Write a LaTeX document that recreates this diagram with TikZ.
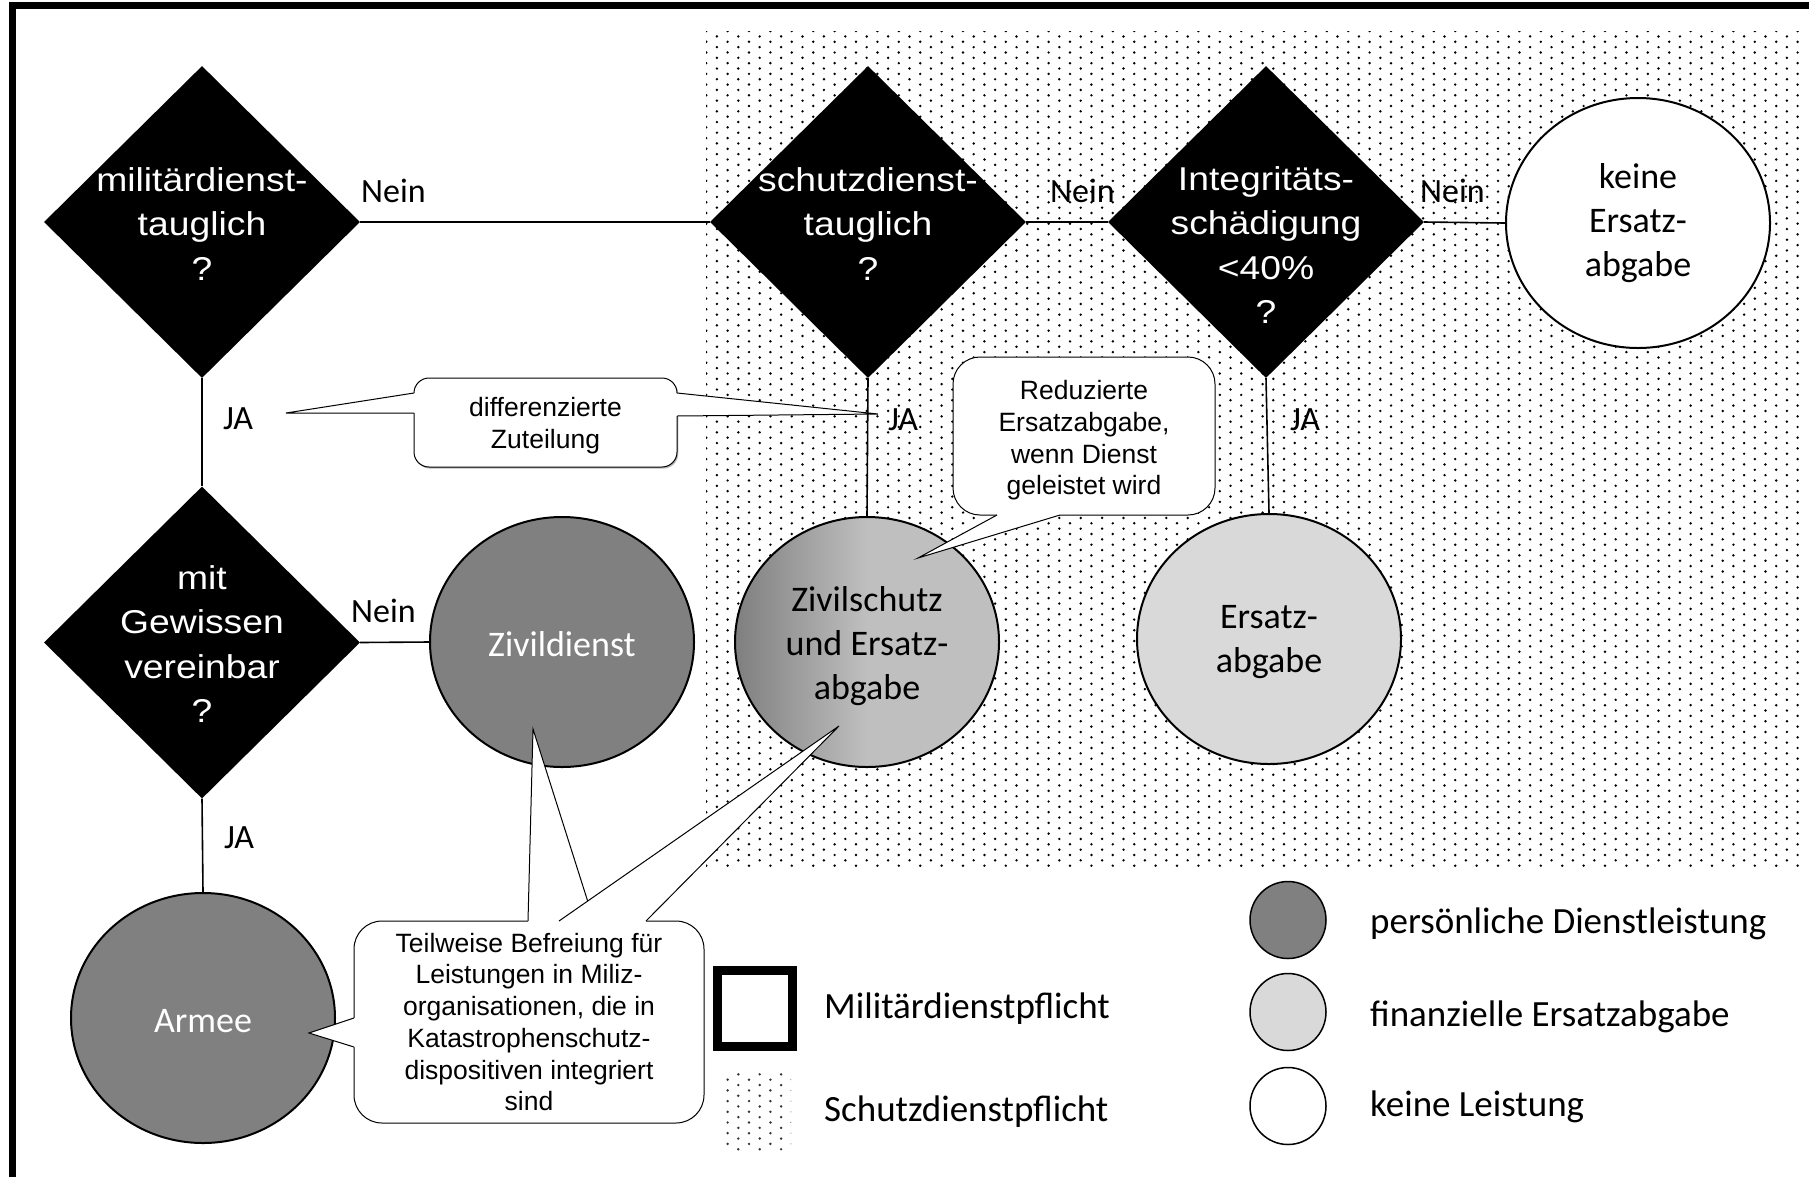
\documentclass[tikz,border=0pt]{standalone}
\usepackage{fontspec}
\setmainfont{Liberation Sans}
\newfontfamily\calfont{Carlito}
\newfontfamily\diafont[FakeStretch=1.13]{Liberation Sans}
\usetikzlibrary{shapes.geometric,patterns,calc,shadows}

\definecolor{midgray}{HTML}{808080}
\definecolor{palegray}{HTML}{D9D9D9}
\definecolor{zsdark}{HTML}{7F7F7F}
\definecolor{zslight}{HTML}{BFBFBF}

% staggered dot raster for the Schutzdienst zone
\pgfdeclarepatternformonly{sdots}{\pgfpoint{-2pt}{-2pt}}{\pgfpoint{13pt}{8pt}}{\pgfpoint{21.4pt}{10.7pt}}{%
  \pgfpathcircle{\pgfpoint{0pt}{0pt}}{1.35pt}%
  \pgfpathcircle{\pgfpoint{10.7pt}{5.35pt}}{1.35pt}%
  \pgfusepath{fill}}

% dark on the left, light from the middle on
\pgfdeclarehorizontalshading{zsshade}{100bp}{color(0bp)=(zsdark); color(25bp)=(zsdark); color(50bp)=(zslight); color(100bp)=(zslight)}

% callout tail: #1 base, #2 tip, #3 base, #4 shift into the box
\newcommand{\drawtail}[4]{%
  \fill[white] ($#1+#4$) -- #1 -- #2 -- #3 -- ($#3+#4$) -- cycle;
  \draw[line width=1pt, line join=miter] #1 -- #2 -- #3;}

\begin{document}
\begin{tikzpicture}[x=1pt,y=-1pt,
  dia/.style={diamond, fill=black, minimum width=316pt, minimum height=312pt, inner sep=0pt},
  dtext/.style={text=white, font=\diafont\fontsize{33}{44.5}\selectfont, align=center, inner sep=0pt},
  circ/.style={ellipse, draw=black, line width=2pt, minimum width=264pt, minimum height=250pt, inner sep=0pt},
  ctext/.style={align=center, inner sep=0pt, font=\calfont\fontsize{36}{44}\selectfont},
  legcirc/.style={ellipse, draw=black, line width=1.5pt, minimum width=76pt, minimum height=77pt, inner sep=0pt},
  yn/.style={font=\calfont\fontsize{34}{40}\selectfont, inner sep=0pt, anchor=base west},
  conn/.style={line width=1.6pt},
  callbox/.style={draw=black, fill=white, line width=1pt, inner sep=0pt},
  calltext/.style={align=center, inner sep=0pt, font=\fontsize{26.5}{31.7}\selectfont},
  legtext/.style={font=\calfont\fontsize{37}{44}\selectfont, anchor=base west, inner sep=0pt}]

\useasboundingbox (0,0) rectangle (1809,1176);

% outer frame (left and top)
\draw[line width=7.5pt, line join=miter] (12.3,1200) -- (12.3,5.5) -- (1830,5.5);

% Schutzdienstpflicht zone
\fill[pattern=sdots, pattern color=black] (706,31) rectangle (1800,866);

% decisions
\node[dia] (d1) at (202,222) {};
\node[dia] (d2) at (202,642.5) {};
\node[dia] (d3) at (868,222) {};
\node[dia] (d4) at (1266,222) {};
\node[dtext] (t1) at (202,224) {militärdienst-\\tauglich\\?};
\node[dtext] (t2) at (202,644) {mit\\Gewissen\\vereinbar\\?};
\node[dtext] (t3) at (868,224) {schutzdienst-\\tauglich\\?};
\node[dtext] (t4) at (1266,245) {Integritäts-\\schädigung\\<40\%\\?};

% outcomes
\node[circ, fill=white] (ck) at (1638,223) {};
\node[circ, fill=midgray] (cz) at (562,642) {};
\node[circ, fill=midgray] (ca) at (203,1018) {};
\node[circ, shade, shading=zsshade] (cs) at (867,642) {};
\node[circ, fill=palegray] (ce) at (1269,639) {};
\node[ctext] (tk) at (1638,223) {keine\\Ersatz-\\abgabe};
\node[ctext, text=white] (tz) at (562,644.5) {Zivildienst};
\node[ctext, text=white] (ta) at (203,1021.5) {Armee};
\node[ctext] (ts) at (867,646.5) {Zivilschutz\\und Ersatz-\\abgabe};
\node[ctext] (te) at (1269,642.5) {Ersatz-\\abgabe};

% flow lines
\draw[conn] (d1.east) -- (d3.west);
\draw[conn] (d3.east) -- (d4.west);
\draw[conn] (d4.east) -- (ck.west);
\draw[conn] (d1.south) -- (d2.north);
\draw[conn] (d2.east) -- (cz.west);
\draw[conn] (d2.south) -- (ca.north);
\draw[conn] (d3.south) -- (cs.north);
\draw[conn] (d4.south) -- (ce.north);

% answers
\node[yn] (n1) at (361,202) {Nein};
\node[yn] (n2) at (1050,202) {Nein};
\node[yn] (n3) at (1420,202) {Nein};
\node[yn] (n4) at (351,622) {Nein};
\node[yn] (j1) at (223,429) {JA};
\node[yn] (j2) at (224,848) {JA};
\node[yn] (j3) at (888,430) {JA};
\node[yn] (j4) at (1290,430) {JA};

% callout: differenzierte Zuteilung
\node[callbox, rounded corners=15pt, minimum width=263pt, minimum height=89pt,
  drop shadow={shadow xshift=1.3pt, shadow yshift=-1.6pt, fill=gray!55, opacity=1}]
  (zut) at (545.5,422.5) {};
\coordinate (zA1) at (414,393); \coordinate (zA2) at (414,413); \coordinate (zAt) at (286,413);
\coordinate (zB1) at (677,393); \coordinate (zB2) at (677,416); \coordinate (zBt) at (878,414);
\drawtail{(zA1)}{(zAt)}{(zA2)}{(3,0)}
\drawtail{(zB1)}{(zBt)}{(zB2)}{(-3,0)}
\node[calltext] (zutt) at (545.5,425.5) {differenzierte\\Zuteilung};

% callout: reduzierte Ersatzabgabe
\node[callbox, rounded corners=27pt, minimum width=262pt, minimum height=158pt]
  (red) at (1084,436) {};
\coordinate (rA1) at (997,515); \coordinate (rA2) at (1060,515); \coordinate (rAt) at (918,558);
\drawtail{(rA1)}{(rAt)}{(rA2)}{(0,-3)}
\node[calltext] (redt) at (1084,440.5) {Reduzierte\\Ersatzabgabe,\\wenn Dienst\\geleistet wird};

% callout: teilweise Befreiung
\node[callbox, rounded corners=28pt, minimum width=350pt, minimum height=202pt]
  (tb) at (529,1022) {};
\coordinate (tA1) at (354,1018); \coordinate (tA2) at (354,1047); \coordinate (tAt) at (309,1033);
\coordinate (tB1) at (528,921); \coordinate (tB2) at (594,921); \coordinate (tBt) at (533,729);
\coordinate (tC1) at (559,921); \coordinate (tC2) at (646,921); \coordinate (tCt) at (839,726);
\drawtail{(tA1)}{(tAt)}{(tA2)}{(3,0)}
\drawtail{(tB1)}{(tBt)}{(tB2)}{(0,3)}
\drawtail{(tC1)}{(tCt)}{(tC2)}{(0,3)}
\node[calltext] (tbt) at (529,1022) {Teilweise Befreiung für\\Leistungen in Miliz-\\organisationen, die in\\Katastrophenschutz-\\dispositiven integriert\\sind};

% legend
\draw[line width=9pt] (717.5,970.5) rectangle (792.5,1046.5);
\node[legtext] (lm) at (824,1018) {Militärdienstpflicht};
\fill[pattern=sdots, pattern color=black!80] (722,1073) rectangle (791,1150);
\node[legtext] (ls) at (824,1121) {Schutzdienstpflicht};
\node[legcirc, fill=midgray] (lc1) at (1288,920) {};
\node[legcirc, fill=palegray] (lc2) at (1288,1012) {};
\node[legcirc, fill=white] (lc3) at (1288,1106) {};
\node[legtext] (lp) at (1370,933) {persönliche Dienstleistung};
\node[legtext] (lf) at (1370,1026) {finanzielle Ersatzabgabe};
\node[legtext] (lk) at (1370,1116) {keine Leistung};

\end{tikzpicture}
\end{document}
